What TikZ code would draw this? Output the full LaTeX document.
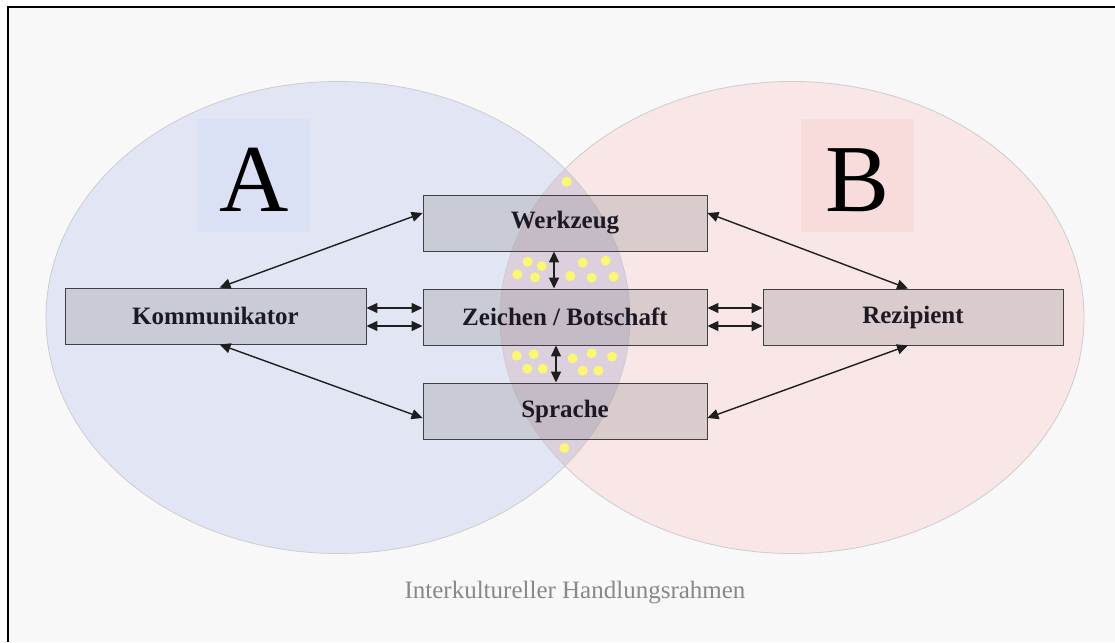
\documentclass[tikz,border=0pt]{standalone}
\usepackage{fontspec}
\setmainfont{Liberation Serif}
\usetikzlibrary{arrows.meta}
\definecolor{bgc}{RGB}{248,248,248}
\definecolor{blueA}{RGB}{226,230,244}
\definecolor{pinkB}{RGB}{249,230,230}
\definecolor{lensC}{RGB}{221,208,222}
\definecolor{sqA}{RGB}{218,225,244}
\definecolor{sqB}{RGB}{248,220,220}
\definecolor{ellline}{RGB}{205,205,205}
\definecolor{boxline}{RGB}{64,64,64}
\definecolor{txt}{RGB}{28,24,36}
\definecolor{arrc}{RGB}{30,30,30}
\definecolor{capc}{RGB}{136,136,136}
\definecolor{dotc}{RGB}{250,248,110}
\tikzset{
  box/.style={draw=boxline, line width=0.9pt, fill=gray, fill opacity=0.25, text opacity=1,
    minimum height=56pt, inner sep=0pt, text=txt, font=\fontsize{25}{25}\selectfont\bfseries},
  arr/.style={draw=arrc, line width=1.4pt, {Triangle[length=11pt,width=10pt]}-{Triangle[length=11pt,width=10pt]}},
  dot/.style={fill=dotc},
  bigletter/.style={inner sep=0pt, text=black, font=\fontsize{96}{96}\selectfont}
}
\begin{document}
\begin{tikzpicture}[x=1pt,y=-1pt]
\useasboundingbox (0,0) rectangle (1115,642);
\fill[white] (0,0) rectangle (1115,642);
\fill[bgc] (8,7) rectangle (1115,642);
\draw[line width=2pt] (8,642) -- (8,7) -- (1115,7);
% ellipses
\fill[blueA] (338,317.5) ellipse [x radius=292pt, y radius=236pt];
\fill[pinkB] (792,317.5) ellipse [x radius=292pt, y radius=236pt];
\begin{scope}
\clip (338,317.5) ellipse [x radius=292pt, y radius=236pt];
\fill[lensC] (792,317.5) ellipse [x radius=292pt, y radius=236pt];
\end{scope}
\draw[ellline, line width=0.8pt] (338,317.5) ellipse [x radius=292pt, y radius=236pt];
\draw[ellline, line width=0.8pt] (792,317.5) ellipse [x radius=292pt, y radius=236pt];
% label squares
\fill[sqA] (197,119) rectangle (310,232);
\fill[sqB] (801,119) rectangle (914,232);
\node[bigletter] (la) at (254,180) {A};
\node[bigletter] (lb) at (858,180) {B};
% boxes
\node[box, minimum width=284pt] (werk) at (565,223) {Werkzeug};
\node[box, minimum width=284pt] (zeich) at (565,317) {Zeichen / Botschaft};
\node[box, minimum width=284pt] (spr) at (565,411) {Sprache};
\node[box, minimum width=301pt] (komm) at (215.5,316) {Kommunikator};
\node[box, minimum width=300pt] (rez) at (913,317) {Rezipient};
% dots
\foreach \x/\y in {566.7/181.7, 527.7/261.7, 541.7/266, 517.3/274.3, 535/277.3, 582.7/262.7, 605.7/260.7, 570.3/276, 591.7/277.7, 613.7/276.7,
  516.7/355.7, 533.7/354.3, 527.3/368.7, 542.7/368.7, 572.7/358.3, 591.7/353.3, 612/356.7, 582.7/370.7, 598.3/370.7, 564.3/448}
  \fill[dot] (\x,\y) circle (5pt);
% arrows
\draw[arr] ([xshift=4pt]komm.north) -- ([yshift=10pt]werk.west);
\draw[arr] ([xshift=4pt]komm.south) -- ([yshift=-7pt]spr.west);
\draw[arr] ([xshift=-5pt]rez.north) -- ([yshift=10pt]werk.east);
\draw[arr] ([xshift=-5pt]rez.south) -- ([yshift=-7pt]spr.east);
\draw[arr] ([yshift=8pt]komm.east) -- ([yshift=8pt]komm.east -| zeich.west);
\draw[arr] ([yshift=-10pt]komm.east) -- ([yshift=-10pt]komm.east -| zeich.west);
\draw[arr] ([yshift=9pt]zeich.east) -- ([yshift=9pt]zeich.east -| rez.west);
\draw[arr] ([yshift=-9pt]zeich.east) -- ([yshift=-9pt]zeich.east -| rez.west);
\draw[arr] ([xshift=-11pt]werk.south) -- ([xshift=-11pt]werk.south |- zeich.north);
\draw[arr] ([xshift=-9pt]zeich.south) -- ([xshift=-9pt]zeich.south |- spr.north);
% caption
\node[text=capc, font=\fontsize{25}{25}\selectfont] (cap) at (575,593) {Interkultureller Handlungsrahmen};
\end{tikzpicture}
\end{document}
